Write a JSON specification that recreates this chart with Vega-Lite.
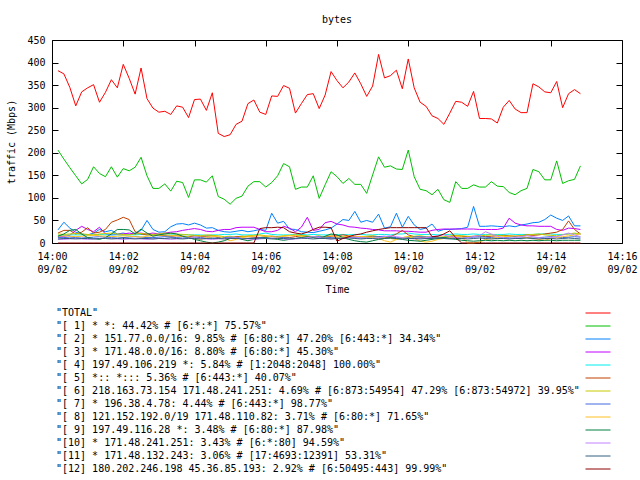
{
"$schema": "https://vega.github.io/schema/vega-lite/v6.json",
"width": 570, "height": 203,
"autosize": {"type": "none"},
"padding": {"left": 52, "top": 40, "right": 18, "bottom": 237},
"background": "white",
"config": {
 "font": "DejaVu Sans Mono",
 "view": {"stroke": "black", "strokeWidth": 1},
 "axis": {"domain": false, "grid": false, "tickSize": -6, "tickWidth": 1, "tickColor": "black", "labelColor": "black", "titleColor": "black", "labelFont": "DejaVu Sans Mono", "titleFont": "DejaVu Sans Mono", "labelFontSize": 10, "titleFontSize": 10, "titleFontWeight": "normal"},
 "legend": {"labelFont": "DejaVu Sans Mono", "labelFontSize": 10, "labelColor": "black"}
},
"title": {"text": "bytes", "fontSize": 10, "fontWeight": "normal", "font": "DejaVu Sans Mono", "color": "black", "offset": 10},
"data": {"values": [
{"t":"2013-09-02T14:00:10","a":382,"b":206,"c":29,"d":15,"e":17,"f":22,"g":20,"h":12,"i":15,"j":15,"k":8,"l":9,"m":0},
{"t":"2013-09-02T14:00:20","a":375,"b":186,"c":46,"d":15,"e":17,"f":28,"g":19,"h":12,"i":16,"j":20,"k":8,"l":10,"m":0},
{"t":"2013-09-02T14:00:30","a":345,"b":167,"c":33,"d":17,"e":18,"f":28,"g":20,"h":13,"i":15,"j":28,"k":9,"l":10,"m":0},
{"t":"2013-09-02T14:00:40","a":304,"b":149,"c":24,"d":28,"e":18,"f":20,"g":21,"h":12,"i":14,"j":30,"k":10,"l":9,"m":0},
{"t":"2013-09-02T14:00:50","a":335,"b":131,"c":20,"d":37,"e":18,"f":24,"g":20,"h":11,"i":15,"j":20,"k":9,"l":10,"m":0},
{"t":"2013-09-02T14:01:00","a":344,"b":141,"c":18,"d":30,"e":17,"f":34,"g":19,"h":12,"i":16,"j":12,"k":8,"l":10,"m":0},
{"t":"2013-09-02T14:01:10","a":351,"b":169,"c":22,"d":25,"e":18,"f":22,"g":18,"h":13,"i":17,"j":10,"k":9,"l":9,"m":0},
{"t":"2013-09-02T14:01:20","a":312,"b":154,"c":30,"d":35,"e":19,"f":24,"g":20,"h":14,"i":16,"j":8,"k":10,"l":10,"m":0},
{"t":"2013-09-02T14:01:30","a":334,"b":147,"c":25,"d":20,"e":18,"f":30,"g":21,"h":13,"i":15,"j":12,"k":11,"l":10,"m":0},
{"t":"2013-09-02T14:01:40","a":362,"b":169,"c":28,"d":18,"e":18,"f":46,"g":22,"h":12,"i":14,"j":20,"k":10,"l":9,"m":0},
{"t":"2013-09-02T14:01:50","a":344,"b":146,"c":20,"d":19,"e":18,"f":51,"g":20,"h":11,"i":15,"j":30,"k":9,"l":10,"m":0},
{"t":"2013-09-02T14:02:00","a":396,"b":165,"c":22,"d":20,"e":17,"f":57,"g":19,"h":12,"i":16,"j":30,"k":8,"l":11,"m":0},
{"t":"2013-09-02T14:02:10","a":365,"b":160,"c":19,"d":22,"e":18,"f":52,"g":18,"h":13,"i":15,"j":29,"k":9,"l":10,"m":0},
{"t":"2013-09-02T14:02:20","a":330,"b":168,"c":22,"d":20,"e":18,"f":25,"g":20,"h":14,"i":14,"j":20,"k":10,"l":9,"m":0},
{"t":"2013-09-02T14:02:30","a":388,"b":190,"c":28,"d":22,"e":19,"f":20,"g":21,"h":13,"i":13,"j":31,"k":9,"l":10,"m":0},
{"t":"2013-09-02T14:02:40","a":320,"b":149,"c":50,"d":20,"e":18,"f":18,"g":20,"h":12,"i":15,"j":22,"k":8,"l":10,"m":0},
{"t":"2013-09-02T14:02:50","a":299,"b":121,"c":30,"d":22,"e":18,"f":18,"g":19,"h":12,"i":16,"j":15,"k":9,"l":9,"m":0},
{"t":"2013-09-02T14:03:00","a":290,"b":121,"c":24,"d":20,"e":18,"f":17,"g":20,"h":13,"i":17,"j":18,"k":10,"l":10,"m":0},
{"t":"2013-09-02T14:03:10","a":292,"b":131,"c":25,"d":22,"e":17,"f":16,"g":22,"h":14,"i":18,"j":20,"k":9,"l":10,"m":0},
{"t":"2013-09-02T14:03:20","a":285,"b":115,"c":36,"d":24,"e":18,"f":15,"g":21,"h":13,"i":17,"j":22,"k":8,"l":11,"m":0},
{"t":"2013-09-02T14:03:30","a":304,"b":137,"c":42,"d":25,"e":18,"f":16,"g":20,"h":12,"i":16,"j":20,"k":9,"l":10,"m":0},
{"t":"2013-09-02T14:03:40","a":301,"b":134,"c":43,"d":28,"e":19,"f":15,"g":19,"h":11,"i":15,"j":15,"k":10,"l":9,"m":0},
{"t":"2013-09-02T14:03:50","a":278,"b":101,"c":40,"d":30,"e":18,"f":14,"g":18,"h":12,"i":14,"j":12,"k":11,"l":10,"m":0},
{"t":"2013-09-02T14:04:00","a":318,"b":140,"c":44,"d":32,"e":18,"f":16,"g":17,"h":13,"i":10,"j":8,"k":12,"l":10,"m":0},
{"t":"2013-09-02T14:04:10","a":319,"b":140,"c":40,"d":30,"e":18,"f":15,"g":16,"h":12,"i":8,"j":5,"k":10,"l":9,"m":0},
{"t":"2013-09-02T14:04:20","a":294,"b":135,"c":33,"d":26,"e":17,"f":15,"g":18,"h":11,"i":12,"j":2,"k":9,"l":10,"m":0},
{"t":"2013-09-02T14:04:30","a":333,"b":149,"c":34,"d":25,"e":18,"f":16,"g":17,"h":10,"i":14,"j":0,"k":8,"l":11,"m":0},
{"t":"2013-09-02T14:04:40","a":243,"b":103,"c":28,"d":28,"e":18,"f":12,"g":16,"h":11,"i":15,"j":2,"k":9,"l":10,"m":0},
{"t":"2013-09-02T14:04:50","a":236,"b":97,"c":25,"d":30,"e":19,"f":10,"g":14,"h":12,"i":10,"j":5,"k":10,"l":9,"m":0},
{"t":"2013-09-02T14:05:00","a":240,"b":86,"c":24,"d":30,"e":19,"f":12,"g":15,"h":13,"i":5,"j":10,"k":11,"l":10,"m":0},
{"t":"2013-09-02T14:05:10","a":263,"b":99,"c":26,"d":34,"e":20,"f":14,"g":12,"h":12,"i":8,"j":12,"k":12,"l":10,"m":0},
{"t":"2013-09-02T14:05:20","a":270,"b":104,"c":28,"d":35,"e":18,"f":15,"g":14,"h":11,"i":12,"j":8,"k":10,"l":9,"m":0},
{"t":"2013-09-02T14:05:30","a":309,"b":126,"c":25,"d":35,"e":18,"f":14,"g":16,"h":10,"i":14,"j":5,"k":9,"l":10,"m":0},
{"t":"2013-09-02T14:05:40","a":317,"b":136,"c":27,"d":35,"e":18,"f":13,"g":17,"h":11,"i":15,"j":8,"k":8,"l":10,"m":0},
{"t":"2013-09-02T14:05:50","a":290,"b":136,"c":30,"d":30,"e":20,"f":12,"g":18,"h":12,"i":16,"j":10,"k":9,"l":11,"m":32},
{"t":"2013-09-02T14:06:00","a":285,"b":124,"c":28,"d":25,"e":22,"f":14,"g":16,"h":13,"i":15,"j":12,"k":10,"l":10,"m":34},
{"t":"2013-09-02T14:06:10","a":326,"b":134,"c":66,"d":25,"e":19,"f":15,"g":15,"h":14,"i":14,"j":10,"k":11,"l":9,"m":34},
{"t":"2013-09-02T14:06:20","a":325,"b":149,"c":44,"d":28,"e":18,"f":14,"g":14,"h":13,"i":13,"j":8,"k":10,"l":10,"m":35},
{"t":"2013-09-02T14:06:30","a":349,"b":176,"c":48,"d":37,"e":18,"f":13,"g":16,"h":12,"i":15,"j":6,"k":9,"l":10,"m":34},
{"t":"2013-09-02T14:06:40","a":343,"b":169,"c":31,"d":33,"e":18,"f":12,"g":17,"h":11,"i":16,"j":8,"k":8,"l":9,"m":25},
{"t":"2013-09-02T14:06:50","a":288,"b":119,"c":30,"d":25,"e":19,"f":14,"g":18,"h":10,"i":17,"j":10,"k":9,"l":10,"m":22},
{"t":"2013-09-02T14:07:00","a":309,"b":124,"c":25,"d":35,"e":19,"f":16,"g":17,"h":11,"i":15,"j":12,"k":10,"l":11,"m":20},
{"t":"2013-09-02T14:07:10","a":329,"b":124,"c":24,"d":57,"e":18,"f":15,"g":15,"h":12,"i":14,"j":14,"k":12,"l":10,"m":24},
{"t":"2013-09-02T14:07:20","a":331,"b":149,"c":23,"d":28,"e":19,"f":14,"g":14,"h":13,"i":12,"j":12,"k":14,"l":9,"m":30},
{"t":"2013-09-02T14:07:30","a":298,"b":99,"c":26,"d":30,"e":18,"f":12,"g":16,"h":14,"i":10,"j":10,"k":12,"l":10,"m":35},
{"t":"2013-09-02T14:07:40","a":328,"b":129,"c":29,"d":45,"e":18,"f":14,"g":12,"h":13,"i":15,"j":15,"k":10,"l":10,"m":35},
{"t":"2013-09-02T14:07:50","a":380,"b":158,"c":33,"d":48,"e":18,"f":15,"g":10,"h":12,"i":16,"j":20,"k":9,"l":9,"m":34},
{"t":"2013-09-02T14:08:00","a":360,"b":147,"c":42,"d":42,"e":18,"f":16,"g":12,"h":11,"i":14,"j":18,"k":10,"l":10,"m":4},
{"t":"2013-09-02T14:08:10","a":344,"b":132,"c":52,"d":40,"e":19,"f":18,"g":14,"h":12,"i":12,"j":12,"k":11,"l":10,"m":10},
{"t":"2013-09-02T14:08:20","a":357,"b":143,"c":50,"d":36,"e":18,"f":16,"g":13,"h":13,"i":16,"j":8,"k":12,"l":11,"m":14},
{"t":"2013-09-02T14:08:30","a":377,"b":130,"c":70,"d":35,"e":19,"f":14,"g":12,"h":12,"i":15,"j":5,"k":13,"l":10,"m":18},
{"t":"2013-09-02T14:08:40","a":353,"b":130,"c":46,"d":33,"e":19,"f":13,"g":14,"h":11,"i":14,"j":3,"k":12,"l":9,"m":20},
{"t":"2013-09-02T14:08:50","a":325,"b":110,"c":50,"d":32,"e":18,"f":14,"g":15,"h":12,"i":13,"j":2,"k":11,"l":10,"m":24},
{"t":"2013-09-02T14:09:00","a":348,"b":151,"c":46,"d":30,"e":18,"f":15,"g":16,"h":13,"i":12,"j":5,"k":10,"l":10,"m":27},
{"t":"2013-09-02T14:09:10","a":418,"b":191,"c":64,"d":29,"e":19,"f":14,"g":14,"h":14,"i":10,"j":8,"k":12,"l":9,"m":30},
{"t":"2013-09-02T14:09:20","a":366,"b":168,"c":33,"d":27,"e":19,"f":12,"g":12,"h":15,"i":5,"j":10,"k":14,"l":10,"m":32},
{"t":"2013-09-02T14:09:30","a":371,"b":171,"c":36,"d":27,"e":18,"f":14,"g":10,"h":13,"i":2,"j":12,"k":16,"l":11,"m":34},
{"t":"2013-09-02T14:09:40","a":383,"b":164,"c":66,"d":27,"e":20,"f":20,"g":8,"h":12,"i":8,"j":10,"k":14,"l":10,"m":34},
{"t":"2013-09-02T14:09:50","a":342,"b":163,"c":35,"d":26,"e":20,"f":28,"g":12,"h":11,"i":12,"j":8,"k":12,"l":9,"m":34},
{"t":"2013-09-02T14:10:00","a":408,"b":206,"c":59,"d":26,"e":22,"f":18,"g":14,"h":12,"i":14,"j":6,"k":10,"l":10,"m":34},
{"t":"2013-09-02T14:10:10","a":344,"b":147,"c":40,"d":25,"e":20,"f":14,"g":15,"h":13,"i":10,"j":5,"k":9,"l":10,"m":34},
{"t":"2013-09-02T14:10:20","a":312,"b":119,"c":30,"d":24,"e":19,"f":13,"g":16,"h":14,"i":4,"j":4,"k":10,"l":9,"m":34},
{"t":"2013-09-02T14:10:30","a":303,"b":116,"c":33,"d":24,"e":19,"f":12,"g":14,"h":13,"i":2,"j":6,"k":12,"l":10,"m":34},
{"t":"2013-09-02T14:10:40","a":282,"b":107,"c":42,"d":28,"e":19,"f":14,"g":13,"h":12,"i":4,"j":8,"k":14,"l":10,"m":14},
{"t":"2013-09-02T14:10:50","a":276,"b":119,"c":26,"d":30,"e":18,"f":13,"g":12,"h":11,"i":8,"j":10,"k":16,"l":11,"m":15},
{"t":"2013-09-02T14:11:00","a":263,"b":96,"c":30,"d":31,"e":19,"f":12,"g":14,"h":12,"i":10,"j":12,"k":18,"l":10,"m":20},
{"t":"2013-09-02T14:11:10","a":288,"b":90,"c":30,"d":31,"e":19,"f":14,"g":16,"h":13,"i":12,"j":10,"k":14,"l":9,"m":27},
{"t":"2013-09-02T14:11:20","a":314,"b":136,"c":31,"d":31,"e":20,"f":16,"g":17,"h":12,"i":14,"j":8,"k":12,"l":10,"m":12},
{"t":"2013-09-02T14:11:30","a":312,"b":121,"c":32,"d":31,"e":19,"f":15,"g":16,"h":11,"i":13,"j":6,"k":10,"l":10,"m":0},
{"t":"2013-09-02T14:11:40","a":303,"b":121,"c":35,"d":31,"e":19,"f":14,"g":15,"h":12,"i":0,"j":5,"k":12,"l":9,"m":0},
{"t":"2013-09-02T14:11:50","a":336,"b":129,"c":81,"d":31,"e":20,"f":15,"g":14,"h":13,"i":0,"j":4,"k":14,"l":10,"m":0},
{"t":"2013-09-02T14:12:00","a":276,"b":124,"c":37,"d":30,"e":19,"f":16,"g":16,"h":14,"i":2,"j":5,"k":16,"l":11,"m":0},
{"t":"2013-09-02T14:12:10","a":276,"b":124,"c":37,"d":30,"e":19,"f":14,"g":17,"h":13,"i":8,"j":6,"k":25,"l":10,"m":0},
{"t":"2013-09-02T14:12:20","a":275,"b":136,"c":38,"d":30,"e":19,"f":15,"g":18,"h":12,"i":10,"j":5,"k":20,"l":9,"m":0},
{"t":"2013-09-02T14:12:30","a":266,"b":126,"c":37,"d":30,"e":19,"f":16,"g":17,"h":11,"i":12,"j":6,"k":15,"l":10,"m":0},
{"t":"2013-09-02T14:12:40","a":301,"b":125,"c":36,"d":33,"e":19,"f":17,"g":16,"h":12,"i":14,"j":5,"k":12,"l":10,"m":0},
{"t":"2013-09-02T14:12:50","a":316,"b":112,"c":38,"d":55,"e":20,"f":16,"g":15,"h":13,"i":15,"j":6,"k":10,"l":9,"m":0},
{"t":"2013-09-02T14:13:00","a":297,"b":107,"c":36,"d":44,"e":19,"f":15,"g":14,"h":14,"i":16,"j":5,"k":12,"l":10,"m":0},
{"t":"2013-09-02T14:13:10","a":289,"b":116,"c":40,"d":40,"e":19,"f":16,"g":16,"h":13,"i":14,"j":6,"k":14,"l":10,"m":0},
{"t":"2013-09-02T14:13:20","a":289,"b":121,"c":42,"d":38,"e":19,"f":18,"g":18,"h":12,"i":12,"j":5,"k":16,"l":11,"m":0},
{"t":"2013-09-02T14:13:30","a":353,"b":163,"c":45,"d":38,"e":19,"f":17,"g":19,"h":11,"i":10,"j":6,"k":14,"l":10,"m":0},
{"t":"2013-09-02T14:13:40","a":346,"b":158,"c":46,"d":37,"e":20,"f":18,"g":20,"h":12,"i":8,"j":5,"k":12,"l":9,"m":0},
{"t":"2013-09-02T14:13:50","a":335,"b":140,"c":52,"d":37,"e":20,"f":20,"g":18,"h":13,"i":6,"j":6,"k":10,"l":10,"m":0},
{"t":"2013-09-02T14:14:00","a":333,"b":140,"c":62,"d":37,"e":20,"f":22,"g":17,"h":14,"i":10,"j":6,"k":12,"l":10,"m":0},
{"t":"2013-09-02T14:14:10","a":358,"b":182,"c":55,"d":30,"e":19,"f":24,"g":16,"h":13,"i":12,"j":5,"k":14,"l":9,"m":0},
{"t":"2013-09-02T14:14:20","a":300,"b":132,"c":50,"d":28,"e":19,"f":30,"g":18,"h":12,"i":14,"j":6,"k":18,"l":10,"m":0},
{"t":"2013-09-02T14:14:30","a":331,"b":138,"c":60,"d":33,"e":20,"f":49,"g":20,"h":13,"i":16,"j":6,"k":22,"l":11,"m":0},
{"t":"2013-09-02T14:14:40","a":340,"b":141,"c":38,"d":32,"e":21,"f":30,"g":22,"h":14,"i":18,"j":6,"k":18,"l":10,"m":0},
{"t":"2013-09-02T14:14:50","a":331,"b":171,"c":38,"d":30,"e":20,"f":20,"g":20,"h":13,"i":20,"j":6,"k":14,"l":9,"m":0}
]},
"transform": [
 {"fold": ["a","b","c","d","e","f","g","h","i","j","k","l","m"], "as": ["key","value"]}
],
"layer": [
 {
  "mark": {"type": "line", "strokeWidth": 1},
  "encoding": {
   "x": {"field": "t", "type": "temporal",
    "scale": {"domain": [{"year": 2013, "month": 9, "date": 2, "hours": 14, "minutes": 0}, {"year": 2013, "month": 9, "date": 2, "hours": 14, "minutes": 16}], "nice": false},
    "axis": {"orient": "bottom", "title": "Time", "labelExpr": "[timeFormat(datum.value, '%H:%M'), timeFormat(datum.value, '%m/%d')]", "labelLineHeight": 13, "labelFlush": false, "labelOverlap": false, "labelPadding": 14, "titlePadding": 10,
     "values": [{"year": 2013, "month": 9, "date": 2, "hours": 14, "minutes": 0}, {"year": 2013, "month": 9, "date": 2, "hours": 14, "minutes": 2}, {"year": 2013, "month": 9, "date": 2, "hours": 14, "minutes": 4}, {"year": 2013, "month": 9, "date": 2, "hours": 14, "minutes": 6}, {"year": 2013, "month": 9, "date": 2, "hours": 14, "minutes": 8}, {"year": 2013, "month": 9, "date": 2, "hours": 14, "minutes": 10}, {"year": 2013, "month": 9, "date": 2, "hours": 14, "minutes": 12}, {"year": 2013, "month": 9, "date": 2, "hours": 14, "minutes": 14}, {"year": 2013, "month": 9, "date": 2, "hours": 14, "minutes": 16}]}},
   "y": {"field": "value", "type": "quantitative",
    "scale": {"domain": [0, 450], "nice": false},
    "axis": {"orient": "left", "title": "traffic (Mbps)", "values": [0,50,100,150,200,250,300,350,400,450], "labelPadding": 13, "titlePadding": 10}},
   "color": {"field": "key", "type": "nominal",
    "scale": {"domain": ["a","b","c","d","e","f","g","h","i","j","k","l","m"],
    "range": ["#ff0000","#00c000","#0080ff","#c000ff","#00eeee","#c04000","#c8c800","#4169e1","#ffc020","#008040","#c080ff","#306080","#8b0000"]},
    "legend": {"orient": "none", "legendX": 539, "legendY": 266, "title": null, "symbolType": "M-2,0H2", "symbolSize": 156.25, "symbolStrokeWidth": 1, "labelOffset": -549, "labelLimit": 1000, "rowPadding": 1,
     "labelExpr": "datum.label == 'a' ? '\"TOTAL\"' : datum.label == 'b' ? '\"[ 1] * *: 44.42% # [6:*:*] 75.57%\"' : datum.label == 'c' ? '\"[ 2] * 151.77.0.0/16: 9.85% # [6:80:*] 47.20% [6:443:*] 34.34%\"' : datum.label == 'd' ? '\"[ 3] * 171.48.0.0/16: 8.80% # [6:80:*] 45.30%\"' : datum.label == 'e' ? '\"[ 4] 197.49.106.219 *: 5.84% # [1:2048:2048] 100.00%\"' : datum.label == 'f' ? '\"[ 5] *:: *::: 5.36% # [6:443:*] 40.07%\"' : datum.label == 'g' ? '\"[ 6] 218.163.73.154 171.48.241.251: 4.69% # [6:873:54954] 47.29% [6:873:54972] 39.95%\"' : datum.label == 'h' ? '\"[ 7] * 196.38.4.78: 4.44% # [6:443:*] 98.77%\"' : datum.label == 'i' ? '\"[ 8] 121.152.192.0/19 171.48.110.82: 3.71% # [6:80:*] 71.65%\"' : datum.label == 'j' ? '\"[ 9] 197.49.116.28 *: 3.48% # [6:80:*] 87.98%\"' : datum.label == 'k' ? '\"[10] * 171.48.241.251: 3.43% # [6:*:80] 94.59%\"' : datum.label == 'l' ? '\"[11] * 171.48.132.243: 3.06% # [17:4693:12391] 53.31%\"' : '\"[12] 180.202.246.198 45.36.85.193: 2.92% # [6:50495:443] 99.99%\"'"}}
  }
 },
 {
  "mark": {"type": "line", "opacity": 0},
  "encoding": {
   "x": {"field": "t", "type": "temporal",
    "axis": {"orient": "top", "title": null, "labels": false,
     "values": [{"year": 2013, "month": 9, "date": 2, "hours": 14, "minutes": 0}, {"year": 2013, "month": 9, "date": 2, "hours": 14, "minutes": 2}, {"year": 2013, "month": 9, "date": 2, "hours": 14, "minutes": 4}, {"year": 2013, "month": 9, "date": 2, "hours": 14, "minutes": 6}, {"year": 2013, "month": 9, "date": 2, "hours": 14, "minutes": 8}, {"year": 2013, "month": 9, "date": 2, "hours": 14, "minutes": 10}, {"year": 2013, "month": 9, "date": 2, "hours": 14, "minutes": 12}, {"year": 2013, "month": 9, "date": 2, "hours": 14, "minutes": 14}, {"year": 2013, "month": 9, "date": 2, "hours": 14, "minutes": 16}]}},
   "y": {"field": "value", "type": "quantitative",
    "axis": {"orient": "right", "title": null, "labels": false, "values": [0,50,100,150,200,250,300,350,400,450]}},
   "detail": {"field": "key"}
  }
 }
],
"resolve": {"axis": {"x": "independent", "y": "independent"}}
}
